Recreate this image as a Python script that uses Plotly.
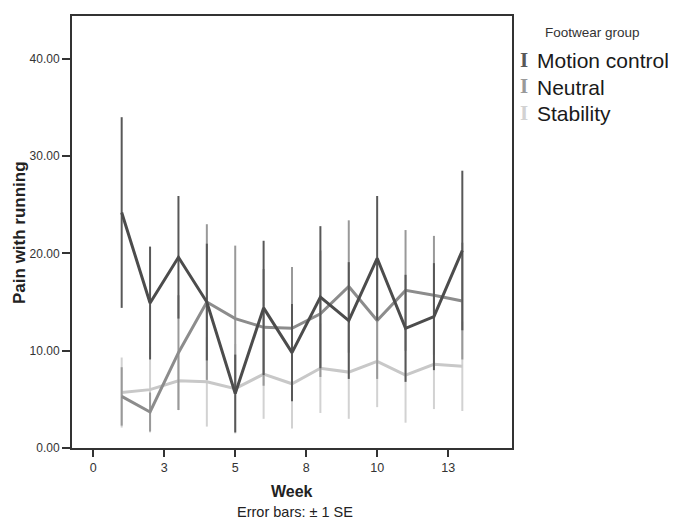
import plotly.graph_objects as go

weeks = [1, 2, 3, 4, 5, 6, 7, 8, 9, 10, 11, 12, 13]

motion_mean = [24.2, 14.9, 19.6, 15.0, 5.6, 14.4, 9.8, 15.5, 13.1, 19.5, 12.3, 13.5, 20.3]
motion_se = [9.8, 5.8, 6.3, 6.0, 4.0, 6.9, 5.0, 7.3, 6.0, 6.4, 5.5, 5.5, 8.2]

neutral_mean = [5.3, 3.7, 9.8, 15.0, 13.3, 12.4, 12.3, 13.8, 16.6, 13.1, 16.2, 15.7, 15.1]
neutral_se = [3.0, 2.0, 5.9, 8.0, 7.5, 6.0, 6.3, 6.5, 6.8, 6.0, 6.2, 6.1, 6.0]

stability_mean = [5.7, 6.0, 6.9, 6.8, 6.1, 7.6, 6.6, 8.2, 7.8, 8.9, 7.5, 8.6, 8.4]
stability_se = [3.6, 4.4, 3.0, 4.6, 4.6, 4.6, 4.6, 4.6, 4.8, 4.7, 4.9, 4.6, 4.6]

x_tickvals = [0, 2.5, 5, 7.5, 10, 12.5]
x_ticktext = ["0", "3", "5", "8", "10", "13"]
y_tickvals = [0, 10, 20, 30, 40]
y_ticktext = ["0.00", "10.00", "20.00", "30.00", "40.00"]

groups = ["Motion control", "Neutral", "Stability"]
colors = ["#4c4c4c", "#8c8c8c", "#c8c8c8"]
bar_colors = ["#585858", "#999999", "#d2d2d2"]

FONT = "Liberation Sans, Arial, sans-serif"

fig = go.Figure()
series = [
    (stability_mean, stability_se, 2),
    (neutral_mean, neutral_se, 1),
    (motion_mean, motion_se, 0),
]
for mean, se, i in series:
    fig.add_trace(go.Scatter(
        x=weeks, y=mean, mode="lines", name=groups[i],
        line=dict(color=colors[i], width=3),
        error_y=dict(type="data", array=se, visible=True, width=0,
                     thickness=2, color=bar_colors[i]),
        showlegend=False,
    ))

# The page body has an 8px margin, so the figure is sized 8px smaller.
# Plot area on the page: x 72..512, y 14..448.
fig.update_layout(
    width=668, height=514,
    margin=dict(l=64, r=164, t=6, b=74),
    paper_bgcolor="white", plot_bgcolor="white",
    font=dict(family=FONT, color="#222"),
    xaxis=dict(range=[-0.75, 14.75], tickvals=x_tickvals, ticktext=x_ticktext,
               showgrid=False, zeroline=False, showline=True, mirror=True,
               linecolor="#333", linewidth=2, ticks="outside", ticklen=7,
               tickwidth=2, tickcolor="#333",
               tickfont=dict(size=12.5, color="#333", family=FONT)),
    yaxis=dict(range=[0, 44.4], tickvals=y_tickvals, ticktext=y_ticktext,
               showgrid=False, zeroline=False, showline=True, mirror=True,
               linecolor="#333", linewidth=2, ticks="outside", ticklen=8,
               tickwidth=2, tickcolor="#333",
               tickfont=dict(size=12, color="#333", family=FONT)),
)

def px_x(px):
    return (px - 72) / 440.0

def px_y(py):
    return (448 - py) / 434.0

ann = [
    dict(text="<b>Week</b>", x=px_x(292), y=px_y(491.5), font=dict(size=16, color="#222")),
    dict(text="Error bars: ± 1 SE", x=px_x(295), y=px_y(512.5), font=dict(size=14.5, color="#222")),
    dict(text="<b>Pain with running</b>", x=px_x(20), y=px_y(232), textangle=-90,
         font=dict(size=17, color="#222")),
    dict(text="Footwear group", x=px_x(542.5), y=px_y(30.5), xanchor="left",
         font=dict(size=13.5, color="#333")),
]
rows_y = [59, 85.5, 112]
for i, g in enumerate(groups):
    ann.append(dict(text="<b>I</b>", x=px_x(524), y=px_y(rows_y[i] - 1), xanchor="center",
                    font=dict(size=21, color=bar_colors[i],
                              family="Liberation Serif, DejaVu Serif, serif")))
    ann.append(dict(text=g, x=px_x(535), y=px_y(rows_y[i]), xanchor="left",
                    font=dict(size=21, color="#1a1a1a")))

for a in ann:
    a.setdefault("xanchor", "center")
    a.update(xref="paper", yref="paper", yanchor="middle", showarrow=False)
    fig.add_annotation(**a)

fig.write_html("out.html")
